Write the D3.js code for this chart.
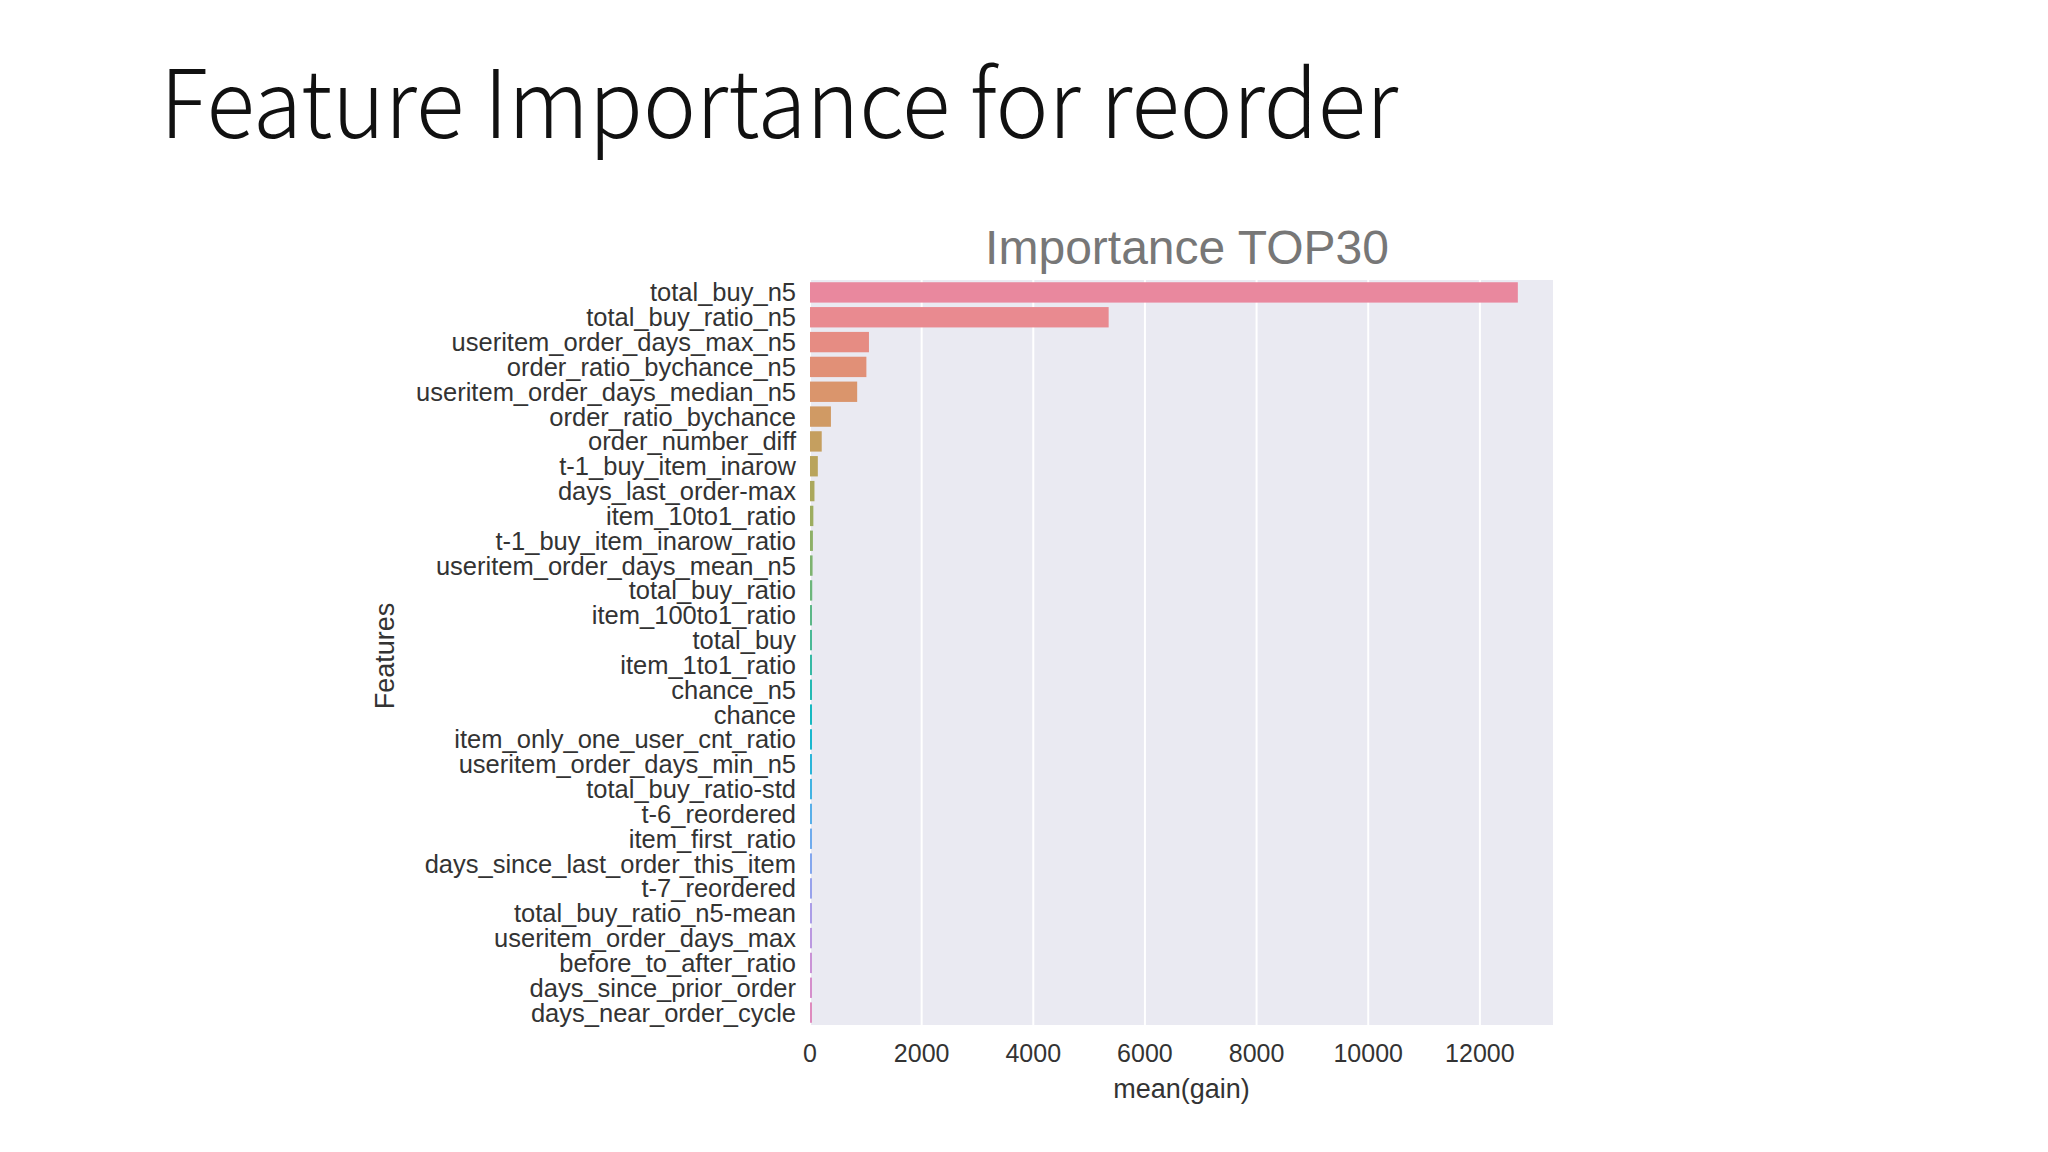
<!DOCTYPE html>
<html><head><meta charset="utf-8">
<script src="https://d3js.org/d3.v7.min.js"></script>
<style>body{margin:0;background:#fff}</style></head>
<body><svg id="c" width="2048" height="1152"></svg>
<script>
const features = ["total_buy_n5","total_buy_ratio_n5","useritem_order_days_max_n5","order_ratio_bychance_n5","useritem_order_days_median_n5","order_ratio_bychance","order_number_diff","t-1_buy_item_inarow","days_last_order-max","item_10to1_ratio","t-1_buy_item_inarow_ratio","useritem_order_days_mean_n5","total_buy_ratio","item_100to1_ratio","total_buy","item_1to1_ratio","chance_n5","chance","item_only_one_user_cnt_ratio","useritem_order_days_min_n5","total_buy_ratio-std","t-6_reordered","item_first_ratio","days_since_last_order_this_item","t-7_reordered","total_buy_ratio_n5-mean","useritem_order_days_max","before_to_after_ratio","days_since_prior_order","days_near_order_cycle"];
const gains = [12680,5350,1056,1010,845,375,210,140,80,60,52,46,40,35,28,22,18,15,13,11,10,9,8,7,6,5,5,4,4,3];
const xTicks = [0,2000,4000,6000,8000,10000,12000];

const svg = d3.select("#c");
const L=810,R=1553,T=280,B=1025;
const x = d3.scaleLinear().domain([0,13310]).range([L,R]);
const y = d3.scaleBand().domain(features).range([T,B]).paddingInner(0.18).paddingOuter(0.09);
const color = i => d3.hcl(8 + i*345/30, 40, 68).toString();

svg.append("text").attr("x",160).attr("y",138).attr("font-family","'Noto Sans CJK JP'").attr("font-weight",300)
  .attr("font-size",94).attr("fill","#111").attr("textLength",1238).attr("lengthAdjust","spacingAndGlyphs")
  .text("Feature Importance for reorder");
svg.append("rect").attr("x",L).attr("y",T).attr("width",R-L).attr("height",B-T).attr("fill","#eaeaf2");
svg.append("g").selectAll("line").data(xTicks).join("line")
  .attr("x1",d=>x(d)).attr("x2",d=>x(d)).attr("y1",T).attr("y2",B).attr("stroke","#fff").attr("stroke-width",2);
svg.append("g").selectAll("rect").data(gains).join("rect")
  .attr("x",x(0)).attr("y",(d,i)=>y(features[i])).attr("height",y.bandwidth())
  .attr("width",d=>Math.max(2,x(d)-x(0))).attr("fill",(d,i)=>color(i));
const font="'Liberation Sans', Arial, sans-serif";
svg.append("g").selectAll("text").data(features).join("text")
  .attr("x",L-14).attr("y",d=>y(d)+y.bandwidth()/2).attr("dy","0.35em").attr("text-anchor","end")
  .attr("font-family",font).attr("font-size",25.5).attr("fill","#333").text(d=>d);
svg.append("g").selectAll("text").data(xTicks).join("text")
  .attr("x",d=>x(d)).attr("y",1062).attr("text-anchor","middle")
  .attr("font-family",font).attr("font-size",25).attr("fill","#333").text(d=>d);
svg.append("text").attr("x",(L+R)/2).attr("y",1098).attr("text-anchor","middle")
  .attr("font-family",font).attr("font-size",27).attr("fill","#333").text("mean(gain)");
svg.append("text").attr("transform",`translate(394,656) rotate(-90)`).attr("text-anchor","middle")
  .attr("font-family",font).attr("font-size",27).attr("fill","#333").text("Features");
svg.append("text").attr("x",1187).attr("y",264).attr("text-anchor","middle")
  .attr("font-family",font).attr("font-size",48).attr("fill","#777").text("Importance TOP30");
</script></body></html>
